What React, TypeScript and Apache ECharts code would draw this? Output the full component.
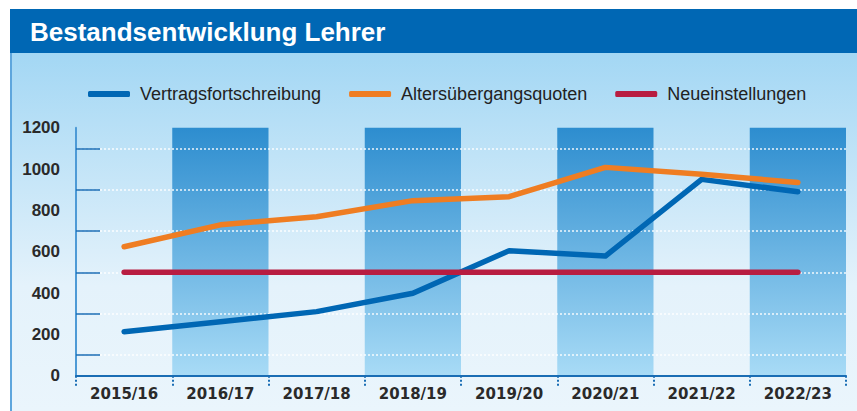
import React, { useEffect, useRef } from "react";
import * as echarts from "echarts";

const categories = ["2015/16", "2016/17", "2017/18", "2018/19", "2019/20", "2020/21", "2021/22", "2022/23"];
const vertragsfortschreibung = [213, 261, 310, 399, 605, 579, 950, 890];
const altersuebergangsquoten = [624, 730, 769, 847, 866, 1008, 975, 935];
const neueinstellungen = [500, 500, 500, 500, 500, 500, 500, 500];
const bandValues = [null, 1200, null, 1200, null, 1200, null, 1200];
const yLabelValues = [0, 200, 400, 600, 800, 1000, 1200];
const yTickValues = [100, 300, 500, 700, 900, 1100];
const seriesNames = ["Vertragsfortschreibung", "Altersübergangsquoten", "Neueinstellungen"];
const titleText = "Bestandsentwicklung Lehrer";

const FONT = '"Liberation Sans", Arial, sans-serif';

export default function App() {
  const ref = useRef<HTMLDivElement>(null);
  useEffect(() => {
    if (!ref.current) return;
    const chart = echarts.init(ref.current, undefined, { renderer: "svg" });
    const lineSeries = (name: string, data: number[], color: string) => ({
      name,
      type: "line",
      data,
      symbol: "none",
      z: 5,
      itemStyle: { color },
      lineStyle: { color, width: 5.5, cap: "round", join: "round" },
    });
    chart.setOption({
      animation: false,
      graphic: [
        { type: "rect", z: -10, shape: { x: 0, y: 0, width: 857, height: 411 }, style: { fill: "#ffffff" } },
        {
          type: "rect",
          z: -9,
          shape: { x: 10, y: 53, width: 847, height: 358 },
          style: {
            fill: new echarts.graphic.LinearGradient(0, 0, 0, 1, [
              { offset: 0, color: "#a3d7f4" },
              { offset: 0.65, color: "#e4f2fb" },
              { offset: 1, color: "#eaf5fc" },
            ]),
          },
        },
        { type: "rect", z: -8, shape: { x: 10, y: 9, width: 847, height: 44 }, style: { fill: "#0067b4" } },
        { type: "line", z: -7, shape: { x1: 11, y1: 53, x2: 11, y2: 411 }, style: { stroke: "#5ea6dd", lineWidth: 2 } },
        {
          type: "text",
          z: -6,
          x: 30,
          y: 32,
          style: {
            text: titleText,
            fill: "#ffffff",
            font: `bold 26px ${FONT}`,
            textAlign: "left",
            verticalAlign: "middle",
            textVerticalAlign: "middle",
          },
        },
      ],
      legend: {
        data: seriesNames,
        left: 83,
        top: 80,
        icon: "roundRect",
        itemWidth: 42,
        itemHeight: 6,
        itemGap: 28,
        textStyle: { fontFamily: FONT, fontSize: 18, color: "#222222", padding: [0, 0, 0, 5] },
      },
      grid: { left: 76, right: 11, top: 127.7, bottom: 35.3, containLabel: false },
      xAxis: {
        type: "category",
        data: categories,
        boundaryGap: true,
        z: 3,
        axisLine: { show: true, lineStyle: { color: "#1a6db4", width: 2 } },
        axisTick: { show: true, length: 12, lineStyle: { color: "#1a6db4", width: 2, type: [2, 2] } },
        axisLabel: { margin: 11, fontFamily: "DejaVu Sans", fontWeight: "bold", fontSize: 15, color: "#2a2a2a" },
        splitLine: { show: false },
      },
      yAxis: {
        type: "value",
        min: 0,
        max: 1200,
        interval: 200,
        z: 3,
        axisLine: { show: true, lineStyle: { color: "#4d9ad6", width: 2 } },
        axisTick: {
          show: true,
          inside: true,
          length: 24,
          customValues: yTickValues,
          lineStyle: { color: "#1a6db4", width: 1.5 },
        },
        axisLabel: {
          customValues: yLabelValues,
          formatter: (v: number) => String(v),
          margin: 16,
          fontFamily: FONT,
          fontWeight: "bold",
          fontSize: 17,
          color: "#2a2a2a",
        },
        splitLine: { show: false },
      },
      series: [
        {
          name: "bands",
          type: "bar",
          data: bandValues,
          barWidth: "100%",
          z: 1,
          silent: true,
          itemStyle: {
            color: new echarts.graphic.LinearGradient(0, 0, 0, 1, [
              { offset: 0, color: "#2d8dcf" },
              { offset: 1, color: "#a8dbf6" },
            ]),
          },
          markLine: {
            silent: true,
            symbol: "none",
            z: 2,
            label: { show: false },
            lineStyle: { color: "rgba(255,255,255,0.9)", width: 1.5, type: [2, 2] },
            data: yTickValues.map((v) => ({ yAxis: v })),
          },
        },
        lineSeries(seriesNames[0], vertragsfortschreibung, "#0067b4"),
        lineSeries(seriesNames[1], altersuebergangsquoten, "#ef7d22"),
        lineSeries(seriesNames[2], neueinstellungen, "#b81d41"),
      ],
    });
    return () => chart.dispose();
  }, []);
  return (
    <div
      ref={ref}
      style={{ position: "absolute", left: 0, top: 0, width: 857, height: 411 }}
    />
  );
}
